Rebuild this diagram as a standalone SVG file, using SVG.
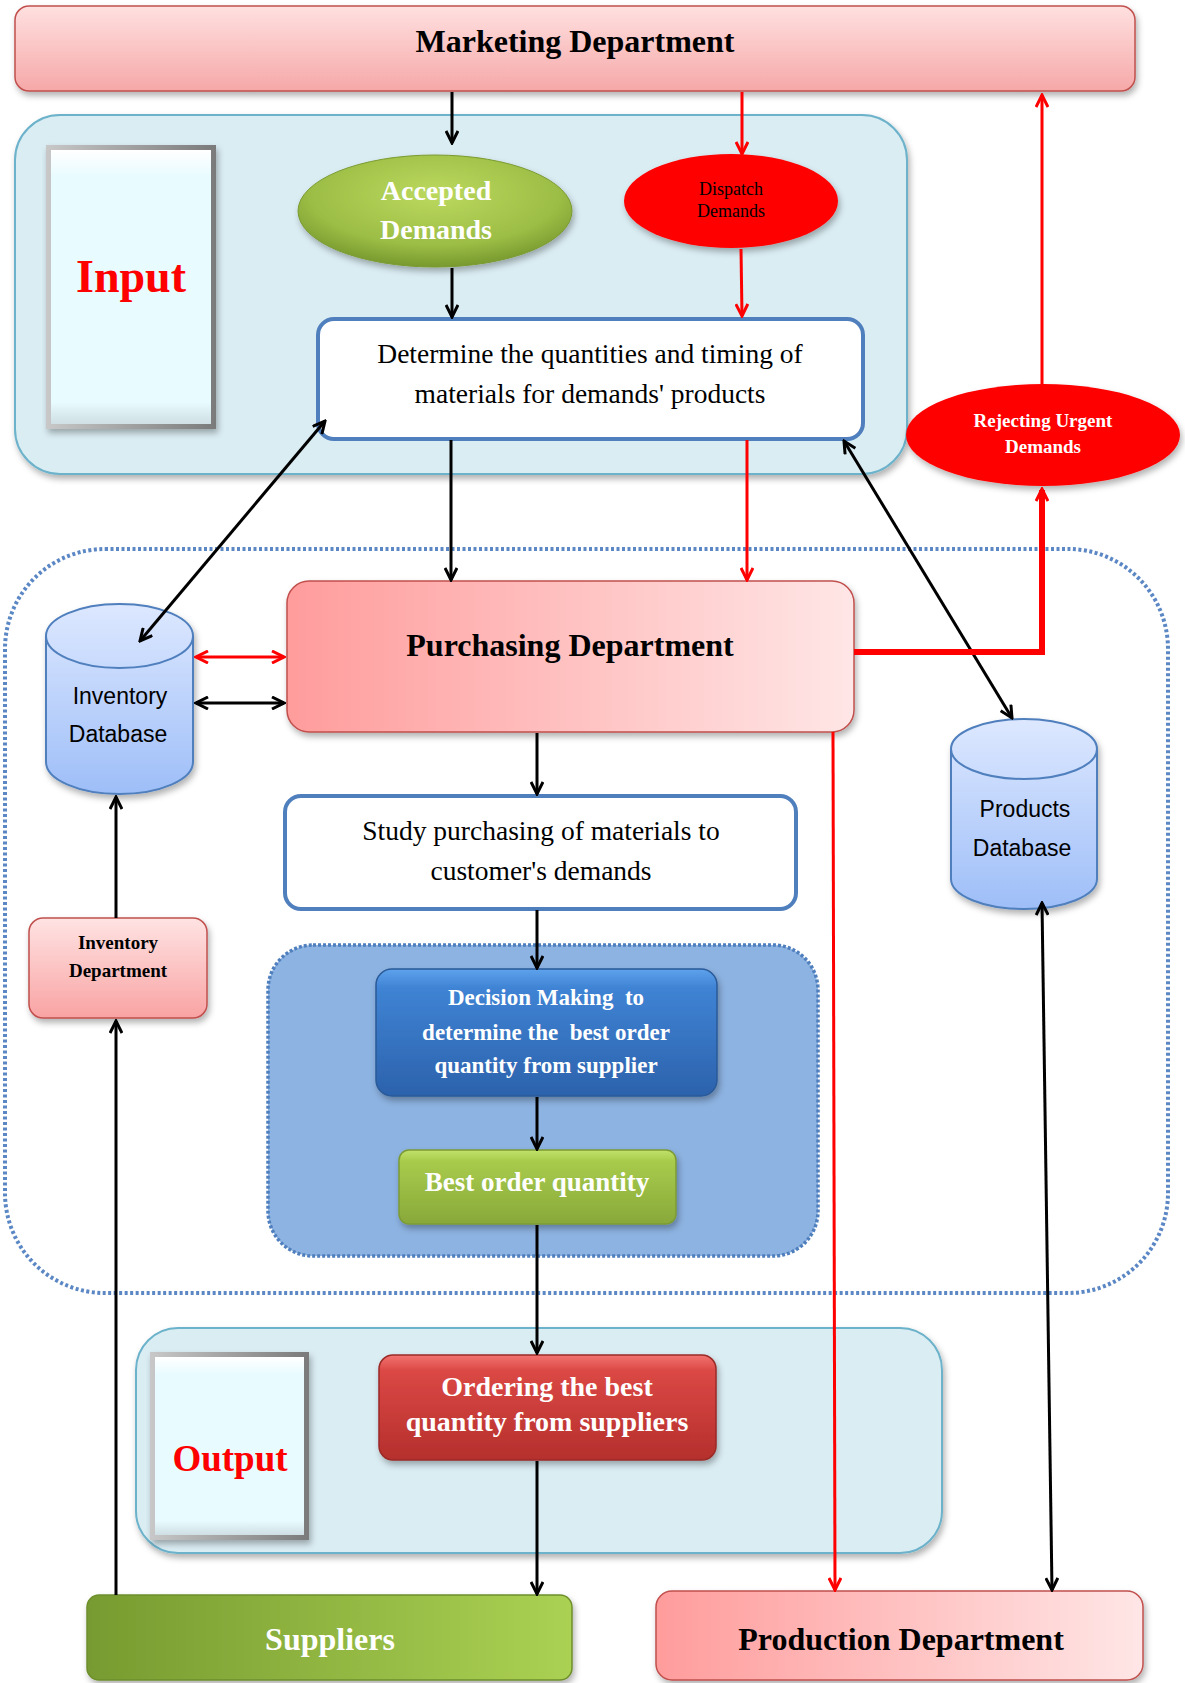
<svg xmlns="http://www.w3.org/2000/svg" width="1185" height="1683" viewBox="0 0 1185 1683">
<defs>
  <style>
    .serif{font-family:"Liberation Serif","Times New Roman",serif;}
    .sans{font-family:"Liberation Sans",Arial,sans-serif;}
    .b{font-weight:bold;}
    .c{text-anchor:middle;}
    .blk{stroke:#000;stroke-width:3;fill:none;}
    .red{stroke:#ff0000;stroke-width:3;fill:none;}
    .cont{fill:#daedf3;stroke:#6cb2ca;stroke-width:2;}
    .wbox{fill:#fff;stroke:#4f7fbd;stroke-width:4;}
  </style>
  <filter id="sh" x="-10%" y="-10%" width="130%" height="140%">
    <feDropShadow dx="2" dy="4" stdDeviation="3" flood-color="#000" flood-opacity="0.3"/>
  </filter>
  <marker id="ab" viewBox="0 0 16 14" refX="14" refY="7" markerWidth="16" markerHeight="14" markerUnits="userSpaceOnUse" orient="auto-start-reverse">
    <path d="M2,1 L14,7 L2,13" fill="none" stroke="#000" stroke-width="3"/>
  </marker>
  <marker id="ar" viewBox="0 0 16 14" refX="14" refY="7" markerWidth="16" markerHeight="14" markerUnits="userSpaceOnUse" orient="auto-start-reverse">
    <path d="M2,1 L14,7 L2,13" fill="none" stroke="#ff0000" stroke-width="3"/>
  </marker>
  <linearGradient id="gMkt" x1="0" y1="0" x2="0" y2="1">
    <stop offset="0" stop-color="#ffe0e0"/><stop offset="1" stop-color="#f6a8a8"/>
  </linearGradient>
  <linearGradient id="gPinkH" x1="0" y1="0" x2="1" y2="0">
    <stop offset="0" stop-color="#ff9c9c"/><stop offset="1" stop-color="#ffe6e6"/>
  </linearGradient>
  <linearGradient id="gInvDept" x1="0" y1="0" x2="0" y2="1">
    <stop offset="0" stop-color="#ffe3e3"/><stop offset="1" stop-color="#f9a3a3"/>
  </linearGradient>
  <linearGradient id="gCyl" x1="0" y1="0" x2="0" y2="1">
    <stop offset="0" stop-color="#dde8ff"/><stop offset="1" stop-color="#9ebef8"/>
  </linearGradient>
  <radialGradient id="gGreenE" cx="0.5" cy="0.35" r="0.65">
    <stop offset="0" stop-color="#bcd95e"/><stop offset="0.7" stop-color="#9cbd45"/><stop offset="1" stop-color="#77992e"/>
  </radialGradient>
  <linearGradient id="gDec" x1="0" y1="0" x2="0" y2="1">
    <stop offset="0" stop-color="#5ea2ec"/><stop offset="0.15" stop-color="#3f83d4"/><stop offset="1" stop-color="#2c62ac"/>
  </linearGradient>
  <linearGradient id="gBest" x1="0" y1="0" x2="0" y2="1">
    <stop offset="0" stop-color="#c2e26a"/><stop offset="0.15" stop-color="#a8cb4c"/><stop offset="1" stop-color="#88a93a"/>
  </linearGradient>
  <linearGradient id="gOrd" x1="0" y1="0" x2="0" y2="1">
    <stop offset="0" stop-color="#f27370"/><stop offset="0.15" stop-color="#db4845"/><stop offset="1" stop-color="#b52f2c"/>
  </linearGradient>
  <linearGradient id="gSup" x1="0" y1="0" x2="1" y2="0">
    <stop offset="0" stop-color="#779b30"/><stop offset="1" stop-color="#abd153"/>
  </linearGradient>
  <linearGradient id="gBevel" x1="0" y1="0" x2="1" y2="0">
    <stop offset="0" stop-color="#c8c8c8"/><stop offset="1" stop-color="#7a7a7a"/>
  </linearGradient>
  <linearGradient id="gBevIn" x1="0" y1="0" x2="0" y2="1">
    <stop offset="0" stop-color="#ffffff"/><stop offset="0.1" stop-color="#e8fbff"/><stop offset="0.92" stop-color="#e8fbff"/><stop offset="1" stop-color="#cfdfe3"/>
  </linearGradient>
</defs>

<rect width="1185" height="1683" fill="#fff"/>

<!-- containers -->
<g id="input-container">
  <rect class="cont" x="15" y="115" width="892" height="359" rx="45" filter="url(#sh)"/>
</g>
<g id="process-container">
  <rect x="5" y="549" width="1163" height="744" rx="100" fill="none" stroke="#5b87c4" stroke-width="4" stroke-dasharray="3 2.5"/>
</g>
<g id="decision-container">
  <rect x="268" y="945" width="550" height="311" rx="45" fill="#8db3e2" stroke="#4f7fbd" stroke-width="3.5" stroke-dasharray="3 2"/>
</g>
<g id="output-container">
  <rect class="cont" x="136" y="1328" width="806" height="225" rx="42" filter="url(#sh)"/>
</g>

<!-- nodes -->
<g id="marketing">
  <rect x="15" y="6" width="1120" height="85" rx="14" fill="url(#gMkt)" stroke="#c0504d" stroke-width="1.5" filter="url(#sh)"/>
  <text class="serif b c" x="575" y="52" font-size="32">Marketing Department</text>
</g>

<g id="input-label">
  <rect x="46" y="145" width="170" height="284" fill="url(#gBevel)" filter="url(#sh)"/>
  <rect x="51" y="150" width="160" height="274" fill="url(#gBevIn)"/>
  <text class="serif b c" x="131" y="292" font-size="46" fill="#ff0000">Input</text>
</g>

<g id="accepted">
  <ellipse cx="435" cy="211" rx="137" ry="56" fill="url(#gGreenE)" stroke="#7a9a30" stroke-width="1" filter="url(#sh)"/>
  <text class="serif b c" x="436" y="200" font-size="28" fill="#fff">Accepted</text>
  <text class="serif b c" x="436" y="239" font-size="28" fill="#fff">Demands</text>
</g>

<g id="dispatch">
  <ellipse cx="731" cy="201" rx="107" ry="47" fill="#ff0000" filter="url(#sh)"/>
  <text class="serif c" x="731" y="195" font-size="18" fill="#000">Dispatch</text>
  <text class="serif c" x="731" y="217" font-size="18" fill="#000">Demands</text>
</g>

<g id="determine">
  <rect class="wbox" x="318" y="319" width="545" height="120" rx="16"/>
  <text class="serif c" x="590" y="363" font-size="27.5">Determine the quantities and timing of</text>
  <text class="serif c" x="590" y="403" font-size="27.5">materials for demands' products</text>
</g>

<g id="rejecting">
  <ellipse cx="1043" cy="435" rx="137" ry="51" fill="#ff0000" filter="url(#sh)"/>
  <text class="serif b c" x="1043" y="427" font-size="19" fill="#fff">Rejecting Urgent</text>
  <text class="serif b c" x="1043" y="453" font-size="19" fill="#fff">Demands</text>
</g>

<g id="purchasing">
  <rect x="287" y="581" width="567" height="151" rx="22" fill="url(#gPinkH)" stroke="#c0504d" stroke-width="1.5" filter="url(#sh)"/>
  <text class="serif b c" x="570" y="656" font-size="32">Purchasing Department</text>
</g>

<g id="inventory-db">
  <path d="M46,636 A73.5,32 0 0 1 193,636 V762 A73.5,32 0 0 1 46,762 Z" fill="url(#gCyl)" stroke="#4f7fbd" stroke-width="2" filter="url(#sh)"/>
  <path d="M46,636 A73.5,32 0 0 0 193,636" fill="none" stroke="#4f7fbd" stroke-width="2"/>
  <text class="sans c" x="120" y="704" font-size="23">Inventory</text>
  <text class="sans c" x="118" y="742" font-size="23">Database</text>
</g>

<g id="products-db">
  <path d="M951,749 A73,30 0 0 1 1097,749 V879 A73,30 0 0 1 951,879 Z" fill="url(#gCyl)" stroke="#4f7fbd" stroke-width="2" filter="url(#sh)"/>
  <path d="M951,749 A73,30 0 0 0 1097,749" fill="none" stroke="#4f7fbd" stroke-width="2"/>
  <text class="sans c" x="1025" y="817" font-size="23">Products</text>
  <text class="sans c" x="1022" y="856" font-size="23">Database</text>
</g>

<g id="inventory-dept">
  <rect x="29" y="918" width="178" height="100" rx="14" fill="url(#gInvDept)" stroke="#c0504d" stroke-width="1.5" filter="url(#sh)"/>
  <text class="serif b c" x="118" y="949" font-size="19">Inventory</text>
  <text class="serif b c" x="118" y="977" font-size="19">Department</text>
</g>

<g id="study">
  <rect class="wbox" x="285" y="796" width="511" height="113" rx="16"/>
  <text class="serif c" x="541" y="840" font-size="27.5">Study purchasing of materials to</text>
  <text class="serif c" x="541" y="880" font-size="27.5">customer's demands</text>
</g>

<g id="decision">
  <rect x="376" y="969" width="341" height="127" rx="16" fill="url(#gDec)" stroke="#2a5a98" stroke-width="1.5" filter="url(#sh)"/>
  <text class="serif b c" x="546" y="1005" font-size="23" fill="#fff" xml:space="preserve">Decision Making  to</text>
  <text class="serif b c" x="546" y="1040" font-size="23" fill="#fff" xml:space="preserve">determine the  best order</text>
  <text class="serif b c" x="546" y="1073" font-size="23" fill="#fff">quantity from supplier</text>
</g>

<g id="best-order">
  <rect x="399" y="1150" width="277" height="74" rx="10" fill="url(#gBest)" stroke="#7c9a34" stroke-width="1.5" filter="url(#sh)"/>
  <text class="serif b c" x="537" y="1191" font-size="27" fill="#fff">Best order quantity</text>
</g>

<g id="output-label">
  <rect x="150" y="1352" width="159" height="188" fill="url(#gBevel)" filter="url(#sh)"/>
  <rect x="155" y="1357" width="149" height="178" fill="url(#gBevIn)"/>
  <text class="serif b c" x="230" y="1471" font-size="37" fill="#ff0000">Output</text>
</g>

<g id="ordering">
  <rect x="379" y="1355" width="337" height="105" rx="14" fill="url(#gOrd)" stroke="#9a2a28" stroke-width="1.5" filter="url(#sh)"/>
  <text class="serif b c" x="547" y="1396" font-size="28" fill="#fff">Ordering the best</text>
  <text class="serif b c" x="547" y="1431" font-size="28" fill="#fff">quantity from suppliers</text>
</g>

<g id="suppliers">
  <rect x="87" y="1595" width="485" height="85" rx="12" fill="url(#gSup)" stroke="#6e8f2c" stroke-width="1.5" filter="url(#sh)"/>
  <text class="serif b c" x="330" y="1650" font-size="32" fill="#fff">Suppliers</text>
</g>

<g id="production">
  <rect x="656" y="1591" width="487" height="89" rx="16" fill="url(#gPinkH)" stroke="#c0504d" stroke-width="1.5" filter="url(#sh)"/>
  <text class="serif b c" x="901" y="1650" font-size="32">Production Department</text>
</g>

<!-- connectors -->
<g id="connectors">
  <line class="blk" x1="452" y1="92" x2="452" y2="143" marker-end="url(#ab)"/>
  <line class="red" x1="742" y1="92" x2="742" y2="154" marker-end="url(#ar)"/>
  <line class="blk" x1="452" y1="268" x2="452" y2="317" marker-end="url(#ab)"/>
  <line class="red" x1="741" y1="249" x2="742" y2="316" marker-end="url(#ar)"/>
  <line class="blk" x1="451" y1="440" x2="451" y2="580" marker-end="url(#ab)"/>
  <line class="red" x1="747" y1="440" x2="747" y2="580" marker-end="url(#ar)"/>
  <line class="blk" x1="325" y1="421" x2="140" y2="641" marker-start="url(#ab)" marker-end="url(#ab)"/>
  <line class="blk" x1="844" y1="441" x2="1012" y2="718" marker-start="url(#ab)" marker-end="url(#ab)"/>
  <line class="red" x1="1042" y1="384" x2="1042" y2="95" marker-end="url(#ar)"/>
  <polyline points="854,652 1042,652 1042,490" fill="none" stroke="#ff0000" stroke-width="6"/>
  <line class="red" x1="1042" y1="500" x2="1042" y2="489" marker-end="url(#ar)"/>
  <line class="red" x1="196" y1="657" x2="284" y2="657" marker-start="url(#ar)" marker-end="url(#ar)"/>
  <line class="blk" x1="196" y1="703" x2="284" y2="703" marker-start="url(#ab)" marker-end="url(#ab)"/>
  <line class="blk" x1="537" y1="733" x2="537" y2="794" marker-end="url(#ab)"/>
  <line class="blk" x1="537" y1="910" x2="537" y2="968" marker-end="url(#ab)"/>
  <line class="blk" x1="537" y1="1097" x2="537" y2="1149" marker-end="url(#ab)"/>
  <line class="blk" x1="537" y1="1225" x2="537" y2="1353" marker-end="url(#ab)"/>
  <line class="blk" x1="537" y1="1461" x2="537" y2="1594" marker-end="url(#ab)"/>
  <line class="blk" x1="116" y1="1595" x2="116" y2="1021" marker-end="url(#ab)"/>
  <line class="blk" x1="116" y1="918" x2="116" y2="797" marker-end="url(#ab)"/>
  <line class="red" x1="833" y1="732" x2="835" y2="1590" marker-end="url(#ar)"/>
  <line class="blk" x1="1042" y1="903" x2="1052" y2="1590" marker-start="url(#ab)" marker-end="url(#ab)"/>
</g>
</svg>
